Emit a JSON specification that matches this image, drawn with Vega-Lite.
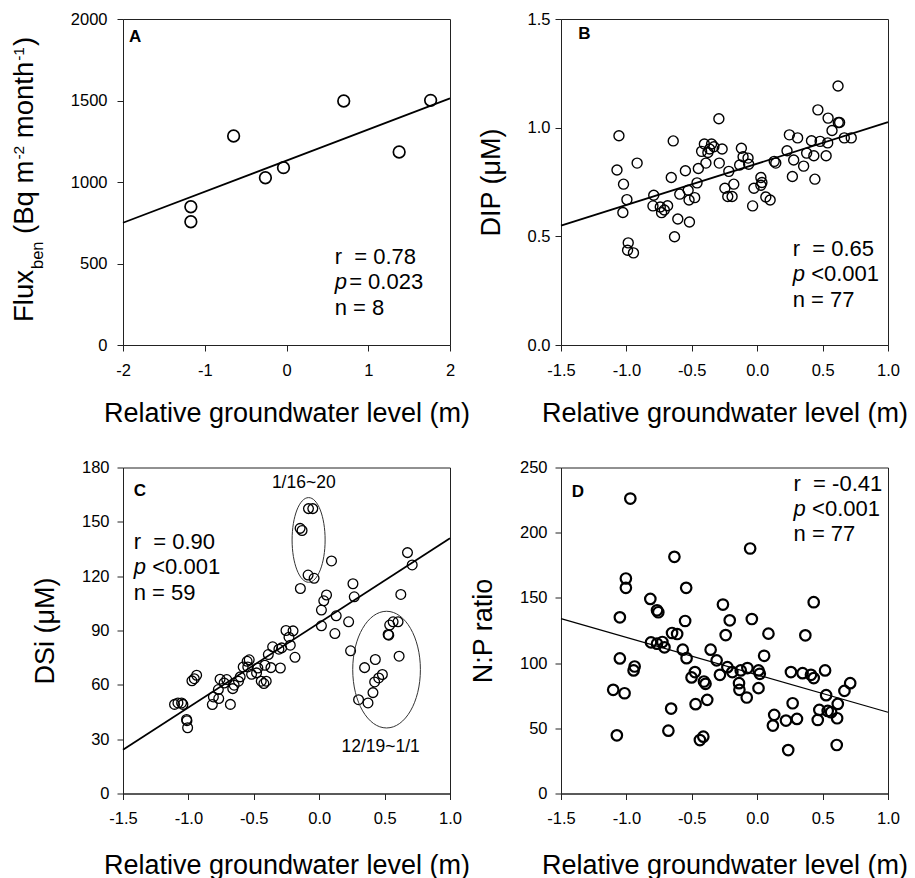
{
"$schema": "https://vega.github.io/schema/vega-lite/v6.json",
"padding": {"left": 10, "top": 10, "right": 0, "bottom": 0},
"bounds": "flush",
"columns": 2,
"spacing": {"row": 122.5, "column": 111},
"config": {
 "font": "Liberation Sans",
 "view": {"stroke": "#222", "strokeWidth": 1},
 "axis": {"grid": false, "domainColor": "#222", "tickColor": "#222", "tickSize": 6, "labelFont": "Liberation Sans", "labelFontSize": 16.5, "labelColor": "#000", "titleFont": "Liberation Sans", "titleFontSize": 27, "titleFontWeight": "normal", "titleColor": "#000", "labelFlush": false, "labelOverlap": false},
 "axisX": {"labelPadding": 11, "titlePadding": 22},
 "axisY": {"titlePadding": 22, "labelPadding": 8},
 "text": {"font": "Liberation Sans", "color": "#000"}
},
"datasets": {
 "A": [{"x":-1.17,"y":848},{"x":-1.17,"y":756},{"x":-0.647,"y":1282},{"x":-0.258,"y":1026},{"x":-0.037,"y":1088},{"x":0.70,"y":1497},{"x":1.378,"y":1184},{"x":1.763,"y":1501}],
 "Aline": [{"x":-2,"y":750},{"x":2,"y":1513}],
 "Anote": [{"x":0.589,"y":497,"t":"r\u00a0 = 0.78"},{"x":0.589,"y":184,"t":"n = 8"}],
 "Ap": [{"x":0.589,"y":342,"t":"p"}],
 "Ap2": [{"x":0.589,"y":342,"t":"= 0.023"}],
 "Alab": [{"x":-1.926,"y":1859,"t":"A"}],
 "Atitle": [{"x":-3.096,"y":141,"t":"Flux"},{"x":-3.096,"y":681.6,"t":"(Bq m"},{"x":-3.096,"y":1268.7,"t":"month"},{"x":-3.096,"y":1834.4,"t":")"}],
 "Asub": [{"x":-2.982,"y":466,"t":"ben"}],
 "Asup": [{"x":-3.206,"y":1137.4,"t":"-2"},{"x":-3.206,"y":1743.6,"t":"-1"}],
 "B": [{"x":-1.057,"y":0.963},{"x":-1.072,"y":0.805},{"x":-1.022,"y":0.740},{"x":-0.996,"y":0.669},{"x":-1.027,"y":0.610},{"x":-0.918,"y":0.837},{"x":-0.986,"y":0.470},{"x":-0.991,"y":0.436},{"x":-0.946,"y":0.424},{"x":-0.791,"y":0.689},{"x":-0.797,"y":0.640},{"x":-0.741,"y":0.635},{"x":-0.731,"y":0.609},{"x":-0.685,"y":0.641},{"x":-0.71,"y":0.621},{"x":-0.657,"y":0.771},{"x":-0.642,"y":0.939},{"x":-0.607,"y":0.580},{"x":-0.632,"y":0.498},{"x":-0.592,"y":0.694},{"x":-0.549,"y":0.802},{"x":-0.528,"y":0.712},{"x":-0.521,"y":0.667},{"x":-0.518,"y":0.566},{"x":-0.478,"y":0.678},{"x":-0.46,"y":0.746},{"x":-0.45,"y":0.812},{"x":-0.425,"y":0.891},{"x":-0.404,"y":0.925},{"x":-0.392,"y":0.837},{"x":-0.364,"y":0.902},{"x":-0.349,"y":0.925},{"x":-0.377,"y":0.886},{"x":-0.331,"y":0.912},{"x":-0.293,"y":1.041},{"x":-0.29,"y":0.837},{"x":-0.268,"y":0.902},{"x":-0.247,"y":0.721},{"x":-0.217,"y":0.799},{"x":-0.225,"y":0.683},{"x":-0.192,"y":0.683},{"x":-0.179,"y":0.740},{"x":-0.121,"y":0.905},{"x":-0.134,"y":0.828},{"x":-0.108,"y":0.866},{"x":-0.07,"y":0.86},{"x":-0.065,"y":0.832},{"x":-0.035,"y":0.640},{"x":-0.025,"y":0.721},{"x":0.028,"y":0.771},{"x":0.028,"y":0.735},{"x":0.036,"y":0.748},{"x":0.066,"y":0.681},{"x":0.099,"y":0.667},{"x":0.13,"y":0.845},{"x":0.142,"y":0.837},{"x":0.228,"y":0.894},{"x":0.246,"y":0.967},{"x":0.309,"y":0.953},{"x":0.279,"y":0.851},{"x":0.269,"y":0.775},{"x":0.355,"y":0.823},{"x":0.378,"y":0.883},{"x":0.415,"y":0.940},{"x":0.433,"y":0.871},{"x":0.441,"y":0.763},{"x":0.464,"y":1.082},{"x":0.481,"y":0.937},{"x":0.539,"y":0.930},{"x":0.527,"y":0.871},{"x":0.542,"y":1.044},{"x":0.572,"y":0.987},{"x":0.620,"y":1.024},{"x":0.630,"y":1.024},{"x":0.618,"y":1.192},{"x":0.666,"y":0.953},{"x":0.719,"y":0.953}],
 "Bline": [{"x":-1.5,"y":0.549},{"x":1.0,"y":1.025}],
 "Bnote": [{"x":0.271,"y":0.4085,"t":"r\u00a0 = 0.65"},{"x":0.271,"y":0.177,"t":"n = 77"}],
 "Bp": [{"x":0.271,"y":0.293,"t":"p"}],
 "Bp2": [{"x":0.271,"y":0.293,"t":"<0.001"}],
 "Blab": [{"x":-1.368,"y":1.41,"t":"B"}],
 "C": [{"x":-1.106,"y":49.2},{"x":-1.080,"y":50.0},{"x":-1.052,"y":50.0},{"x":-1.042,"y":49.2},{"x":-1.014,"y":40.9},{"x":-1.011,"y":40.2},{"x":-1.006,"y":36.3},{"x":-0.973,"y":62.2},{"x":-0.955,"y":63.4},{"x":-0.937,"y":65.3},{"x":-0.817,"y":49.1},{"x":-0.809,"y":53.3},{"x":-0.771,"y":57.4},{"x":-0.758,"y":63.1},{"x":-0.768,"y":52.4},{"x":-0.727,"y":61.0},{"x":-0.707,"y":62.9},{"x":-0.679,"y":49.2},{"x":-0.661,"y":57.9},{"x":-0.650,"y":59.8},{"x":-0.617,"y":62.0},{"x":-0.604,"y":64.4},{"x":-0.581,"y":69.9},{"x":-0.551,"y":73.0},{"x":-0.535,"y":73.8},{"x":-0.546,"y":69.9},{"x":-0.517,"y":65.8},{"x":-0.479,"y":66.6},{"x":-0.469,"y":69.3},{"x":-0.443,"y":62.0},{"x":-0.423,"y":60.7},{"x":-0.405,"y":62.0},{"x":-0.415,"y":70.8},{"x":-0.389,"y":76.7},{"x":-0.369,"y":69.5},{"x":-0.356,"y":81.0},{"x":-0.308,"y":79.7},{"x":-0.297,"y":69.3},{"x":-0.287,"y":80.4},{"x":-0.254,"y":90.0},{"x":-0.231,"y":86.3},{"x":-0.221,"y":81.9},{"x":-0.200,"y":89.8},{"x":-0.185,"y":75.2},{"x":-0.146,"y":146.4},{"x":-0.131,"y":145.2},{"x":-0.082,"y":157.3},{"x":-0.049,"y":157.3},{"x":-0.144,"y":113.2},{"x":-0.085,"y":120.6},{"x":-0.039,"y":118.8},{"x":0.094,"y":128.4},{"x":0.017,"y":101.3},{"x":0.017,"y":92.6},{"x":0.035,"y":106.4},{"x":0.056,"y":109.6},{"x":0.130,"y":98.1},{"x":0.120,"y":88.3},{"x":0.225,"y":94.8},{"x":0.240,"y":78.8},{"x":0.258,"y":115.8},{"x":0.268,"y":108.6},{"x":0.347,"y":69.5},{"x":0.301,"y":51.8},{"x":0.373,"y":50.0},{"x":0.411,"y":55.7},{"x":0.429,"y":74.0},{"x":0.424,"y":61.6},{"x":0.455,"y":63.8},{"x":0.483,"y":65.7},{"x":0.527,"y":87.8},{"x":0.532,"y":87.4},{"x":0.539,"y":93.0},{"x":0.565,"y":94.8},{"x":0.603,"y":94.8},{"x":0.611,"y":75.8},{"x":0.624,"y":109.9},{"x":0.675,"y":133.0},{"x":0.711,"y":126.2}],
 "Cline": [{"x":-1.5,"y":24.2},{"x":1.0,"y":140.9}],
 "Cnote": [{"x":-1.418,"y":135,"t":"r\u00a0 = 0.90"},{"x":-1.418,"y":106.8,"t":"n = 59"}],
 "Cp": [{"x":-1.418,"y":121,"t":"p"}],
 "Cp2": [{"x":-1.418,"y":121,"t":"<0.001"}],
 "Clab": [{"x":-1.418,"y":164.5,"t":"C"}],
 "Cgrp": [{"x":-0.118,"y":168.6,"t":"1/16~20"},{"x":0.470,"y":22.9,"t":"12/19~1/1"}],
 "D": [{"x":-0.970,"y":226.2},{"x":-1.004,"y":164.9},{"x":-1.004,"y":157.7},{"x":-1.050,"y":135.1},{"x":-1.050,"y":103.6},{"x":-1.101,"y":79.5},{"x":-1.014,"y":76.9},{"x":-1.073,"y":44.6},{"x":-0.937,"y":97.4},{"x":-0.945,"y":94.4},{"x":-0.817,"y":149.2},{"x":-0.766,"y":140.5},{"x":-0.756,"y":139.0},{"x":-0.812,"y":115.9},{"x":-0.766,"y":114.9},{"x":-0.725,"y":116.2},{"x":-0.709,"y":112.1},{"x":-0.633,"y":181.5},{"x":-0.651,"y":123.1},{"x":-0.612,"y":122.3},{"x":-0.658,"y":65.1},{"x":-0.679,"y":48.2},{"x":-0.543,"y":157.7},{"x":-0.551,"y":132.3},{"x":-0.569,"y":110.3},{"x":-0.540,"y":103.8},{"x":-0.476,"y":93.1},{"x":-0.502,"y":89.0},{"x":-0.471,"y":68.5},{"x":-0.407,"y":85.9},{"x":-0.395,"y":84.1},{"x":-0.382,"y":71.8},{"x":-0.438,"y":41.0},{"x":-0.412,"y":43.6},{"x":-0.356,"y":110.3},{"x":-0.310,"y":102.1},{"x":-0.285,"y":91.0},{"x":-0.262,"y":144.9},{"x":-0.210,"y":132.8},{"x":-0.241,"y":121.5},{"x":-0.228,"y":96.9},{"x":-0.190,"y":93.1},{"x":-0.139,"y":84.6},{"x":-0.136,"y":79.5},{"x":-0.126,"y":94.4},{"x":-0.075,"y":96.2},{"x":-0.080,"y":73.6},{"x":-0.054,"y":187.9},{"x":-0.041,"y":133.8},{"x":0.010,"y":94.4},{"x":0.020,"y":91.8},{"x":0.010,"y":80.8},{"x":0.053,"y":105.6},{"x":0.086,"y":122.6},{"x":0.130,"y":60.3},{"x":0.120,"y":52.1},{"x":0.220,"y":55.9},{"x":0.237,"y":33.3},{"x":0.258,"y":93.1},{"x":0.271,"y":69.2},{"x":0.304,"y":57.2},{"x":0.347,"y":92.3},{"x":0.368,"y":121.3},{"x":0.411,"y":91.0},{"x":0.432,"y":88.5},{"x":0.432,"y":146.7},{"x":0.463,"y":56.4},{"x":0.475,"y":64.1},{"x":0.519,"y":94.4},{"x":0.527,"y":75.4},{"x":0.539,"y":63.3},{"x":0.565,"y":62.3},{"x":0.616,"y":68.7},{"x":0.611,"y":57.7},{"x":0.608,"y":37.2},{"x":0.667,"y":78.7},{"x":0.711,"y":84.6}],
 "Dline": [{"x":-1.5,"y":134.1},{"x":1.0,"y":62.3}],
 "Dnote": [{"x":0.278,"y":232,"t":"r\u00a0 = -0.41"},{"x":0.278,"y":193.6,"t":"n = 77"}],
 "Dp": [{"x":0.278,"y":212.8,"t":"p"}],
 "Dp2": [{"x":0.278,"y":212.8,"t":"<0.001"}],
 "Dlab": [{"x":-1.418,"y":227.7,"t":"D"}]
},
"concat": [
 {
  "width": 327, "height": 326,
  "encoding": {
   "x": {"field": "x", "type": "quantitative", "scale": {"domain": [-2, 2], "nice": false, "zero": false},
    "axis": {"title": "Relative groundwater level (m)", "values": [-2, -1, 0, 1, 2], "labelExpr": "replace(format(datum.value,'d'),'\u2212','-')"}},
   "y": {"field": "y", "type": "quantitative", "scale": {"domain": [0, 2000], "nice": false, "zero": false},
    "axis": {"title": null, "values": [0, 500, 1000, 1500, 2000], "format": "d", "labelPadding": 10}}
  },
  "layer": [
   {"data": {"name": "Aline"}, "mark": {"type": "line", "color": "#000", "strokeWidth": 1.8}},
   {"data": {"name": "A"}, "mark": {"type": "point", "shape": "circle", "filled": false, "color": "#000", "opacity": 1, "size": 135, "strokeWidth": 1.7}},
   {"data": {"name": "Anote"}, "mark": {"type": "text", "align": "left", "baseline": "alphabetic", "fontSize": 22}, "encoding": {"text": {"field": "t"}}},
   {"data": {"name": "Ap"}, "mark": {"type": "text", "align": "left", "baseline": "alphabetic", "fontSize": 22, "fontStyle": "italic"}, "encoding": {"text": {"field": "t"}}},
   {"data": {"name": "Ap2"}, "mark": {"type": "text", "align": "left", "baseline": "alphabetic", "fontSize": 22, "dx": 14.5}, "encoding": {"text": {"field": "t"}}},
   {"data": {"name": "Alab"}, "mark": {"type": "text", "align": "left", "baseline": "alphabetic", "fontSize": 17, "fontWeight": "bold"}, "encoding": {"text": {"field": "t"}}},
   {"data": {"name": "Atitle"}, "mark": {"type": "text", "align": "left", "baseline": "alphabetic", "fontSize": 27.5, "angle": 270}, "encoding": {"text": {"field": "t"}}},
   {"data": {"name": "Asub"}, "mark": {"type": "text", "align": "left", "baseline": "alphabetic", "fontSize": 16.5, "angle": 270}, "encoding": {"text": {"field": "t"}}},
   {"data": {"name": "Asup"}, "mark": {"type": "text", "align": "left", "baseline": "alphabetic", "fontSize": 15.5, "angle": 270}, "encoding": {"text": {"field": "t"}}}
  ]
 },
 {
  "width": 327, "height": 326,
  "encoding": {
   "x": {"field": "x", "type": "quantitative", "scale": {"domain": [-1.5, 1.0], "nice": false, "zero": false},
    "axis": {"title": "Relative groundwater level (m)", "values": [-1.5, -1, -0.5, 0, 0.5, 1], "labelExpr": "replace(format(datum.value,'.1f'),'\u2212','-')"}},
   "y": {"field": "y", "type": "quantitative", "scale": {"domain": [0, 1.5], "nice": false, "zero": false},
    "axis": {"title": "DIP (\u03bcM)", "values": [0, 0.5, 1, 1.5], "format": ".1f", "labelPadding": 5}}
  },
  "layer": [
   {"data": {"name": "Bline"}, "mark": {"type": "line", "color": "#000", "strokeWidth": 1.8}},
   {"data": {"name": "B"}, "mark": {"type": "point", "shape": "circle", "filled": false, "color": "#000", "opacity": 1, "size": 100, "strokeWidth": 1.4}},
   {"data": {"name": "Bnote"}, "mark": {"type": "text", "align": "left", "baseline": "alphabetic", "fontSize": 22}, "encoding": {"text": {"field": "t"}}},
   {"data": {"name": "Bp"}, "mark": {"type": "text", "align": "left", "baseline": "alphabetic", "fontSize": 22, "fontStyle": "italic"}, "encoding": {"text": {"field": "t"}}},
   {"data": {"name": "Bp2"}, "mark": {"type": "text", "align": "left", "baseline": "alphabetic", "fontSize": 22, "dx": 18.5}, "encoding": {"text": {"field": "t"}}},
   {"data": {"name": "Blab"}, "mark": {"type": "text", "align": "left", "baseline": "alphabetic", "fontSize": 17, "fontWeight": "bold"}, "encoding": {"text": {"field": "t"}}}
  ]
 },
 {
  "width": 327, "height": 326,
  "encoding": {
   "x": {"field": "x", "type": "quantitative", "scale": {"domain": [-1.5, 1.0], "nice": false, "zero": false},
    "axis": {"title": "Relative groundwater level (m)", "values": [-1.5, -1, -0.5, 0, 0.5, 1], "labelExpr": "replace(format(datum.value,'.1f'),'\u2212','-')", "titlePadding": 25}},
   "y": {"field": "y", "type": "quantitative", "scale": {"domain": [0, 180], "nice": false, "zero": false},
    "axis": {"title": "DSi (\u03bcM)", "values": [0, 30, 60, 90, 120, 150, 180], "format": "d"}}
  },
  "layer": [
   {"data": {"name": "Cline"}, "mark": {"type": "line", "color": "#000", "strokeWidth": 1.8}},
   {"data": {"name": "C"}, "mark": {"type": "point", "shape": "circle", "filled": false, "color": "#000", "opacity": 1, "size": 95, "strokeWidth": 1.3}},
   {"data": {"values": [{"x": -0.081, "y": 140}]}, "mark": {"type": "point", "shape": "M -0.39 0 A 0.39 1 0 1 0 0.39 0 A 0.39 1 0 1 0 -0.39 0 Z", "filled": false, "color": "#333", "opacity": 1, "size": 7174, "strokeWidth": 1}},
   {"data": {"values": [{"x": 0.515, "y": 68.4}]}, "mark": {"type": "point", "shape": "M -0.58 0 A 0.58 1 0 1 0 0.58 0 A 0.58 1 0 1 0 -0.58 0 Z", "filled": false, "color": "#333", "opacity": 1, "size": 13619, "strokeWidth": 1}},
   {"data": {"name": "Cgrp"}, "mark": {"type": "text", "align": "center", "baseline": "alphabetic", "fontSize": 17.5}, "encoding": {"text": {"field": "t"}}},
   {"data": {"name": "Cnote"}, "mark": {"type": "text", "align": "left", "baseline": "alphabetic", "fontSize": 22}, "encoding": {"text": {"field": "t"}}},
   {"data": {"name": "Cp"}, "mark": {"type": "text", "align": "left", "baseline": "alphabetic", "fontSize": 22, "fontStyle": "italic"}, "encoding": {"text": {"field": "t"}}},
   {"data": {"name": "Cp2"}, "mark": {"type": "text", "align": "left", "baseline": "alphabetic", "fontSize": 22, "dx": 18.5}, "encoding": {"text": {"field": "t"}}},
   {"data": {"name": "Clab"}, "mark": {"type": "text", "align": "left", "baseline": "alphabetic", "fontSize": 17, "fontWeight": "bold"}, "encoding": {"text": {"field": "t"}}}
  ]
 },
 {
  "width": 327, "height": 326,
  "encoding": {
   "x": {"field": "x", "type": "quantitative", "scale": {"domain": [-1.5, 1.0], "nice": false, "zero": false},
    "axis": {"title": "Relative groundwater level (m)", "values": [-1.5, -1, -0.5, 0, 0.5, 1], "labelExpr": "replace(format(datum.value,'.1f'),'\u2212','-')", "titlePadding": 25}},
   "y": {"field": "y", "type": "quantitative", "scale": {"domain": [0, 250], "nice": false, "zero": false},
    "axis": {"title": "N:P ratio", "values": [0, 50, 100, 150, 200, 250], "format": "d"}}
  },
  "layer": [
   {"data": {"name": "Dline"}, "mark": {"type": "line", "color": "#000", "strokeWidth": 1.2}},
   {"data": {"name": "D"}, "mark": {"type": "point", "shape": "circle", "filled": false, "color": "#000", "opacity": 1, "size": 110, "strokeWidth": 2.2}},
   {"data": {"name": "Dnote"}, "mark": {"type": "text", "align": "left", "baseline": "alphabetic", "fontSize": 22}, "encoding": {"text": {"field": "t"}}},
   {"data": {"name": "Dp"}, "mark": {"type": "text", "align": "left", "baseline": "alphabetic", "fontSize": 22, "fontStyle": "italic"}, "encoding": {"text": {"field": "t"}}},
   {"data": {"name": "Dp2"}, "mark": {"type": "text", "align": "left", "baseline": "alphabetic", "fontSize": 22, "dx": 18.5}, "encoding": {"text": {"field": "t"}}},
   {"data": {"name": "Dlab"}, "mark": {"type": "text", "align": "left", "baseline": "alphabetic", "fontSize": 17, "fontWeight": "bold"}, "encoding": {"text": {"field": "t"}}}
  ]
 }
]
}
